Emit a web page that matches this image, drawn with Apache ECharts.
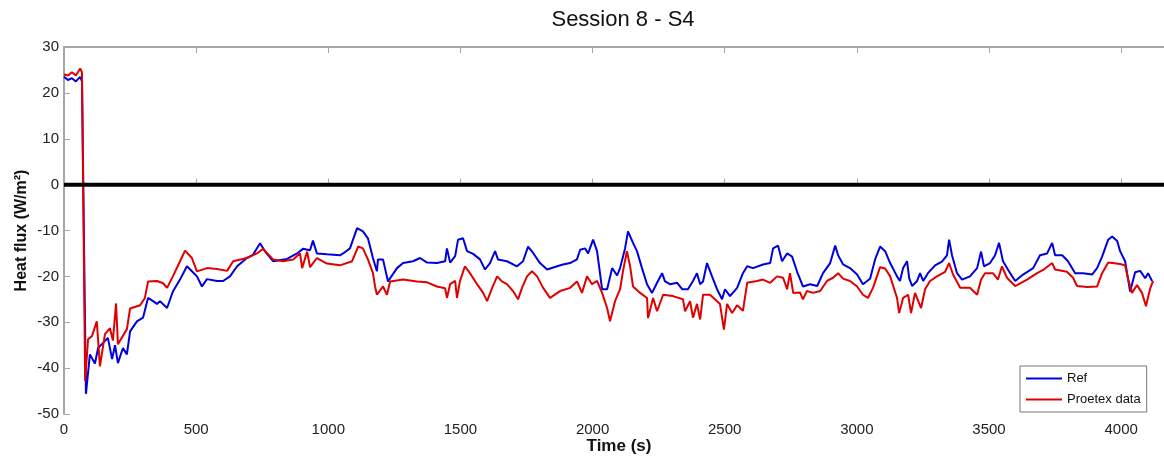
<!DOCTYPE html>
<html>
<head>
<meta charset="utf-8">
<script src="https://cdn.jsdelivr.net/npm/echarts@6/dist/echarts.min.js"></script>
<style>
  html, body { margin: 0; padding: 0; background: #fff; }
  #chart { width: 1164px; height: 457px; }
</style>
</head>
<body>
<div id="chart"></div>
<script>
// Ref sensor (s, W/m²)
var refTime = [0, 15, 30, 45, 61, 68, 83, 98, 117, 129, 148, 166, 182, 193, 204, 223, 238, 250, 276, 299,
  318, 337, 352, 363, 390, 412, 439, 465, 484, 503, 522, 541, 579, 602, 628, 655, 692, 715, 742, 761,
  791, 844, 882, 904, 931, 942, 957, 995, 1044, 1056, 1082, 1109, 1131, 1150, 1169, 1184, 1188, 1207, 1226, 1260,
  1283, 1321, 1347, 1374, 1411, 1442, 1449, 1461, 1480, 1491, 1510, 1525, 1548, 1574, 1593, 1612, 1631, 1642, 1676, 1714,
  1737, 1756, 1775, 1801, 1828, 1866, 1888, 1915, 1941, 1953, 1972, 1983, 2002, 2017, 2036, 2055, 2074, 2093, 2104, 2123,
  2134, 2153, 2168, 2187, 2206, 2225, 2244, 2263, 2274, 2293, 2320, 2339, 2361, 2380, 2395, 2407, 2418, 2433, 2452, 2471,
  2490, 2501, 2520, 2547, 2569, 2585, 2607, 2645, 2672, 2683, 2702, 2717, 2736, 2755, 2774, 2796, 2823, 2850, 2872, 2899,
  2918, 2929, 2948, 2974, 3001, 3023, 3050, 3069, 3088, 3107, 3126, 3152, 3163, 3175, 3190, 3198, 3209, 3228, 3239, 3251,
  3269, 3296, 3322, 3341, 3349, 3360, 3379, 3398, 3428, 3455, 3470, 3481, 3504, 3523, 3538, 3553, 3580, 3599, 3629, 3667,
  3693, 3720, 3739, 3750, 3777, 3799, 3826, 3856, 3890, 3909, 3928, 3951, 3966, 3985, 3996, 4015, 4034, 4053, 4072, 4091,
  4102, 4117];
var refFlux = [23.5, 22.8, 23.2, 22.5, 23.5, 22.5, -45.6, -37, -39, -35.6, -34.5, -33.4, -38, -35, -38.9, -35.6, -37, -32, -29.8, -29,
  -24.7, -25.4, -26, -25.4, -26.9, -23.3, -20.7, -17.8, -18.9, -20, -22.2, -20.6, -21, -21, -20, -17.8, -16, -15.3, -12.8, -14.6,
  -16.7, -16.2, -15, -14, -14.3, -12.2, -15, -15.2, -15.4, -15, -13.9, -9.5, -10.2, -11.7, -16, -18.9, -16.3, -16.3, -21.1, -18.2,
  -17.1, -16.7, -16, -17, -17.1, -16.7, -13.9, -17, -15.6, -12, -11.7, -14.5, -15.1, -16.3, -18.5, -17.1, -14.5, -16.3, -16.7, -17.8,
  -16.7, -13.5, -14.9, -17.1, -18.5, -17.8, -17.4, -17.1, -16.3, -14.2, -13.9, -15, -12, -14.5, -22.8, -22.8, -18.2, -19.8, -18.2, -13.9,
  -10.2, -12.7, -14.5, -18.2, -21.7, -23.6, -21.4, -19.3, -21.1, -21.7, -21.4, -22.8, -22.8, -21, -19.3, -21.7, -21.1, -17.1, -20, -22.8,
  -25, -22.8, -24.3, -22.5, -19.3, -17.8, -18.2, -17.4, -17.1, -13.9, -13.3, -16.7, -15, -15.7, -19, -22.2, -21.7, -22.1, -19.3, -17.1,
  -13.3, -15.4, -17.4, -18.2, -19.6, -21.7, -20.5, -16.3, -13.5, -14.5, -17.1, -20, -21, -18.2, -16.7, -20.4, -22.1, -21, -19.3, -21,
  -19.3, -17.6, -16.8, -15.4, -12, -15.4, -19.3, -20.7, -20, -18.2, -14.6, -17.8, -17.1, -15.4, -12.7, -16.7, -19.3, -21, -19.6, -18.2,
  -15.4, -15, -12.7, -15.4, -15.4, -16.7, -19.3, -19.3, -19.6, -18.2, -15.7, -12, -11.3, -12.3, -14.5, -16.7, -23.3, -19.1, -18.8, -20.4,
  -19.3, -21];

// Proetex sensor (s, W/m²)
var proTime = [0, 15, 30, 45, 61, 68, 80, 91, 106, 124, 136, 155, 174, 185, 197, 204, 238, 250, 288, 306,
  318, 352, 375, 390, 412, 439, 458, 484, 503, 541, 579, 617, 640, 692, 730, 753, 791, 829, 867, 893,
  901, 920, 931, 957, 995, 1044, 1090, 1113, 1131, 1150, 1169, 1177, 1184, 1207, 1222, 1234, 1283, 1336, 1374, 1411,
  1442, 1449, 1461, 1480, 1487, 1498, 1517, 1536, 1563, 1586, 1601, 1620, 1639, 1657, 1676, 1699, 1718, 1733, 1752, 1771,
  1790, 1813, 1839, 1877, 1915, 1941, 1960, 1979, 1998, 2017, 2036, 2055, 2066, 2085, 2104, 2115, 2130, 2142, 2153, 2180,
  2206, 2210, 2229, 2244, 2267, 2304, 2342, 2350, 2369, 2380, 2395, 2407, 2418, 2444, 2463, 2482, 2497, 2509, 2528, 2547,
  2569, 2585, 2622, 2645, 2672, 2698, 2721, 2736, 2747, 2759, 2785, 2796, 2811, 2834, 2861, 2887, 2910, 2929, 2948, 2974,
  3001, 3023, 3042, 3061, 3088, 3107, 3126, 3152, 3160, 3175, 3194, 3205, 3220, 3243, 3258, 3277, 3303, 3334, 3349, 3364,
  3391, 3428, 3455, 3470, 3485, 3515, 3534, 3549, 3568, 3599, 3644, 3682, 3705, 3739, 3750, 3795, 3818, 3833, 3871, 3909,
  3928, 3951, 3996, 4015, 4026, 4041, 4060, 4079, 4094, 4110, 4121];
var proFlux = [24, 23.8, 24.5, 23.8, 25.3, 24.5, -42.8, -33.7, -33, -29.8, -39.6, -32.6, -31.3, -34, -25.9, -34.8, -31.5, -27, -26.3, -24.7,
  -21.1, -21, -21.5, -22.5, -20, -16.7, -14.4, -16, -18.9, -18.2, -18.4, -18.8, -16.7, -16, -15, -14, -16.3, -16.7, -16.3, -15,
  -18.2, -14.6, -18, -16, -17.2, -17.6, -16.7, -13.5, -13.9, -16.3, -19.3, -22.2, -24, -22.2, -24, -21.1, -20.7, -21.1, -21.3, -22.2,
  -22.6, -24.7, -21.7, -21, -24.7, -21.1, -17.8, -19.3, -21.7, -23.6, -25.4, -22.5, -20, -21.1, -21.7, -23.2, -25, -22.5, -20, -18.9,
  -20, -22.5, -24.7, -23.2, -22.5, -21.1, -23.6, -20, -21.7, -21, -23.6, -26.9, -29.8, -25.4, -22.8, -18.9, -14.5, -17.8, -22.2, -23.6,
  -24.7, -29.1, -24.7, -27.6, -24, -24.3, -25, -27.6, -25.4, -29, -26, -29.4, -24, -24, -25, -26, -31.6, -26, -28, -26.3,
  -27.5, -21.4, -21, -20.7, -21.4, -20, -20.3, -22.8, -19.3, -23.6, -23.5, -25, -23.2, -23.6, -23.2, -21, -20.3, -19.3, -20.5, -21,
  -22.2, -24, -24.7, -22.5, -18, -18.3, -20, -24.7, -28, -24.7, -24, -28, -23.6, -26.9, -22.8, -21, -20, -19, -17.1, -19.6,
  -22.5, -22.5, -24, -20.7, -19.3, -19.3, -20.7, -17.8, -20.3, -22.1, -20.7, -19.3, -18.6, -17.1, -18.5, -19, -20.3, -22.1, -22.3, -22.2,
  -19.3, -17, -17.3, -17.6, -20.5, -23.6, -21.9, -23.6, -26.5, -22.6, -21];

var xTicks = [0, 500, 1000, 1500, 2000, 2500, 3000, 3500, 4000];
var yTicks = [-50, -40, -30, -20, -10, 0, 10, 20, 30];

function pairs(t, v) {
    var out = [];
    for (var i = 0; i < t.length; i++) out.push([t[i], v[i]]);
    return out;
}

var chart = echarts.init(document.getElementById('chart'));
var font = 'Liberation Sans, Arial, Helvetica, sans-serif';
var grey = '#a6a6a6';

var option = {
    animation: false,
    backgroundColor: '#fff',
    textStyle: { fontFamily: font },
    title: {
        text: 'Session 8 - S4',
        left: 618,
        top: 4,
        textAlign: 'center',
        textStyle: { fontSize: 22, fontWeight: 'normal', color: '#111', fontFamily: font }
    },
    legend: {
        data: ['Ref', 'Proetex data'],
        orient: 'vertical',
        left: 1020,
        top: 366,
        icon: 'rect',
        itemWidth: 36,
        itemHeight: 2,
        itemGap: 8,
        padding: [6, 6, 6, 6],
        borderColor: '#777',
        borderWidth: 1,
        borderRadius: 0,
        backgroundColor: '#fff',
        textStyle: { fontSize: 13, color: '#111', fontFamily: font }
    },
    grid: { left: 64, width: 1110, top: 47, bottom: 43, containLabel: false, outerBoundsMode: 'none' },
    xAxis: [{
        type: 'value',
        min: xTicks[0],
        max: 4200,
        interval: 500,
        name: 'Time (s)',
        nameLocation: 'middle',
        nameGap: 24,
        nameMoveOverlap: false,
        nameTextStyle: { fontSize: 17, color: '#111', fontWeight: 'bold', fontFamily: font },
        axisLine: { lineStyle: { color: grey, width: 2 } },
        axisTick: { inside: true, length: 6, lineStyle: { color: grey, width: 1 } },
        axisLabel: {
            fontSize: 15, color: '#222', margin: 8, showMaxLabel: false, fontFamily: font,
            formatter: function (v) { return String(v); }
        },
        splitLine: { show: false }
    }, {
        type: 'value',
        position: 'top',
        min: xTicks[0],
        max: 4200,
        interval: 500,
        axisLine: { lineStyle: { color: grey, width: 2 } },
        axisTick: { inside: true, length: 6, lineStyle: { color: grey, width: 1 } },
        axisLabel: { show: false },
        splitLine: { show: false }
    }],
    yAxis: {
        type: 'value',
        min: yTicks[0],
        max: yTicks[yTicks.length - 1],
        interval: 10,
        name: 'Heat flux (W/m²)',
        nameLocation: 'middle',
        nameGap: 34,
        nameMoveOverlap: false,
        nameTextStyle: { fontSize: 16, color: '#111', fontWeight: 'bold', fontFamily: font },
        axisLine: { lineStyle: { color: grey, width: 2 } },
        axisTick: { inside: true, length: 6, lineStyle: { color: grey, width: 1 } },
        axisLabel: { fontSize: 15, color: '#222', margin: 5, fontFamily: font },
        splitLine: { show: false }
    },
    series: [
        {
            name: 'Ref',
            type: 'line',
            data: pairs(refTime, refFlux),
            showSymbol: false,
            lineStyle: { color: '#0000dd', width: 2 },
            itemStyle: { color: '#0000dd' }
        },
        {
            name: 'Proetex data',
            type: 'line',
            data: pairs(proTime, proFlux),
            showSymbol: false,
            lineStyle: { color: '#e00000', width: 2 },
            itemStyle: { color: '#e00000' }
        },
        {
            name: 'zero',
            type: 'line',
            data: [[0, 0], [4200, 0]],
            showSymbol: false,
            silent: true,
            lineStyle: { color: '#000', width: 4 },
            z: 5
        }
    ]
};
chart.setOption(option);
</script>
</body>
</html>
